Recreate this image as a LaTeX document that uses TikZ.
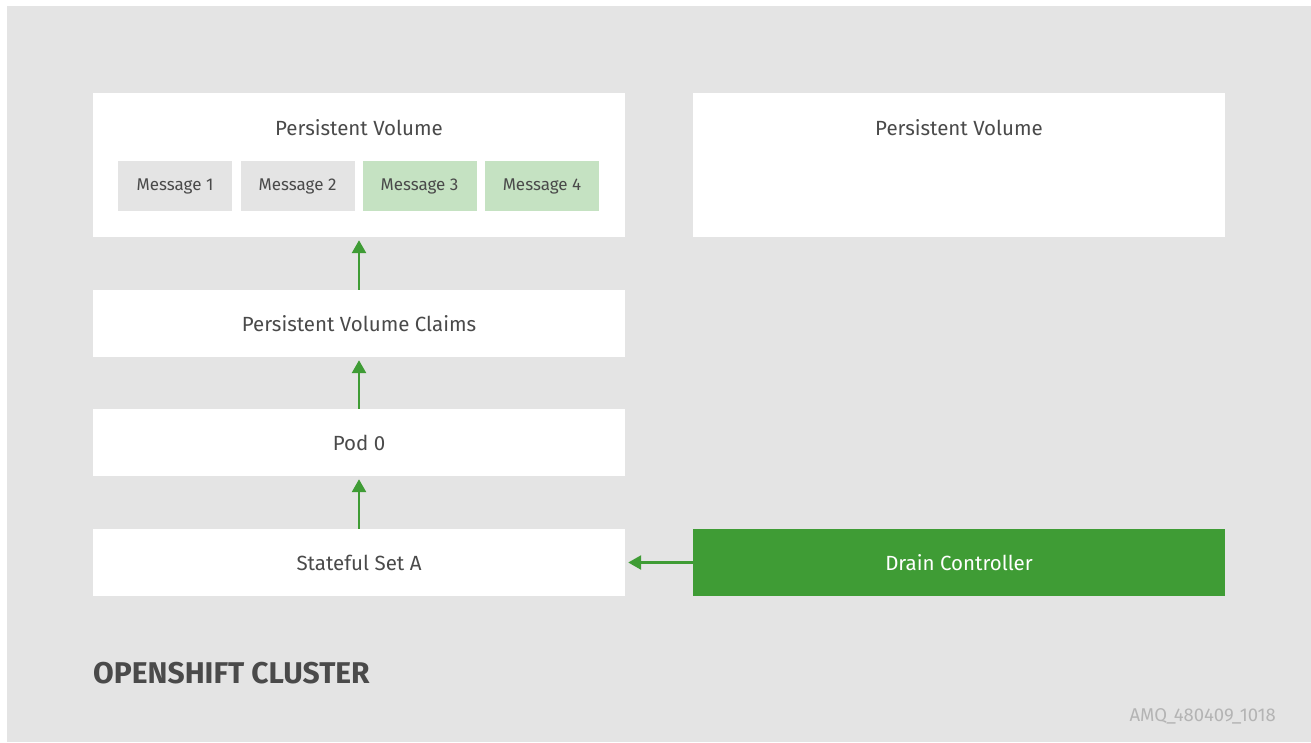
\documentclass[tikz,border=0pt]{standalone}
\usepackage{fontspec}
\setmainfont{Fira Sans}
\usetikzlibrary{arrows.meta}
\definecolor{bg}{HTML}{E4E4E4}
\definecolor{txt}{HTML}{4A4A4A}
\definecolor{dgreen}{HTML}{3F9C35}
\definecolor{lgreen}{HTML}{C5E2C2}
\definecolor{msggray}{HTML}{E4E4E4}
\definecolor{idgray}{HTML}{B4B4B4}
\tikzset{
  box/.style={fill=white, draw=none, inner sep=0pt, text=txt, font=\fontsize{20.5}{24}\selectfont},
  msg/.style={fill=msggray, draw=none, inner sep=0pt, minimum width=114pt, minimum height=50pt, text=txt, font=\fontsize{17}{20}\selectfont},
  msgg/.style={msg, fill=lgreen},
  flow/.style={draw=dgreen, line width=2.6pt, -{Triangle[length=13pt,width=14pt]}, shorten >=3pt},
}
\begin{document}
\begin{tikzpicture}[x=1pt,y=-1pt]
\useasboundingbox (0,0) rectangle (1311,742);
\fill[bg] (7,6) rectangle (1311,742);
% boxes
\node[box, minimum width=532pt, minimum height=144pt] (pv1) at (359,165) {};
\node[box, text=txt] (pv1t) at (359,128) {Persistent Volume};
\node[box, minimum width=532pt, minimum height=144pt] (pv2) at (959,165) {};
\node[box, text=txt] (pv2t) at (959,128) {Persistent Volume};
\node[msg] (m1) at (175,186) {Message 1};
\node[msg] (m2) at (297.5,186) {Message 2};
\node[msgg] (m3) at (419.5,186) {Message 3};
\node[msgg] (m4) at (542,186) {Message 4};
\node[box, minimum width=532pt, minimum height=67pt] (pvc) at (359,323.5) {Persistent Volume Claims};
\node[box, minimum width=532pt, minimum height=67pt] (pod) at (359,442.5) {Pod 0};
\node[box, minimum width=532pt, minimum height=67pt] (ss) at (359,562.5) {Stateful Set A};
\node[box, fill=dgreen, text=white, minimum width=532pt, minimum height=67pt] (dc) at (959,562.5) {Drain Controller};
% arrows
\draw[flow] (pvc.north) -- (pv1.south);
\draw[flow] (pod.north) -- (pvc.south);
\draw[flow] (ss.north) -- (pod.south);
\draw[flow] (dc.west) -- (ss.east);
% labels
\node[anchor=west, text=txt, inner sep=0pt, font=\fontsize{30}{34}\selectfont\bfseries] (cl) at (93,673) {OPENSHIFT CLUSTER};
\node[anchor=east, text=idgray, inner sep=0pt, font=\fontsize{18.5}{21}\selectfont] (id) at (1276,716) {AMQ\_480409\_1018};
\end{tikzpicture}
\end{document}
